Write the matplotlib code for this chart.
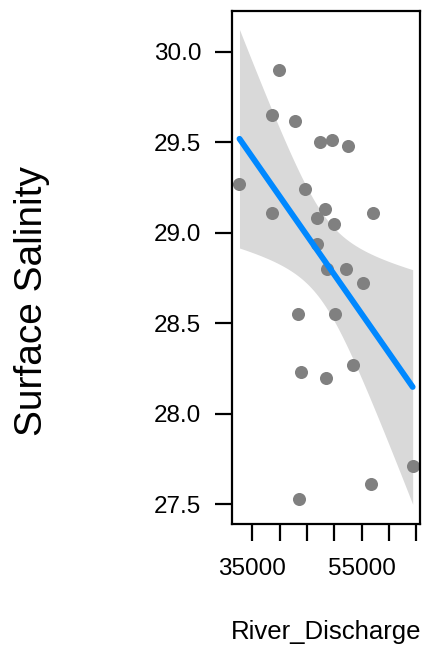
import numpy as np
import matplotlib
matplotlib.use("Agg")
import matplotlib.pyplot as plt

plt.rcParams['font.family'] = ['Liberation Sans', 'DejaVu Sans']

# River discharge vs surface salinity observations
river_discharge = [32620, 38600, 39830, 42870, 47380, 49520, 52560,
                   44640, 38660, 48300, 46780, 49940, 57130, 46780,
                   48610, 52140, 55300, 43300, 50130, 43900, 48480,
                   53370, 64340, 56650, 43540]
surface_salinity = [29.27, 29.65, 29.90, 29.62, 29.50, 29.51, 29.48,
                    29.24, 29.11, 29.13, 29.08, 29.05, 29.11, 28.94,
                    28.80, 28.80, 28.72, 28.55, 28.55, 28.23, 28.20,
                    28.27, 27.71, 27.61, 27.53]

x_ticks = [35000, 40000, 45000, 50000, 55000, 60000, 65000]
x_tick_labels = ['35000', '', '', '', '55000', '', '']
y_ticks = [27.5, 28.0, 28.5, 29.0, 29.5, 30.0]

x = np.array(river_discharge, dtype=float)
y = np.array(surface_salinity, dtype=float)

# ordinary least squares fit with 95% confidence band
n = len(x)
slope, intercept = np.polyfit(x, y, 1)
resid = y - (intercept + slope * x)
s = np.sqrt(np.sum(resid ** 2) / (n - 2))
xx = np.linspace(x.min(), x.max(), 200)
yy = intercept + slope * xx
sxx = np.sum((x - x.mean()) ** 2)
se = s * np.sqrt(1.0 / n + (xx - x.mean()) ** 2 / sxx)
tcrit = 2.0687  # t(0.975, df=23)
lo = yy - tcrit * se
hi = yy + tcrit * se

fig = plt.figure(figsize=(4.24, 6.48), dpi=100)
ax = fig.add_axes([232.5 / 424, 1 - 523.5 / 648, 187 / 424, 512.5 / 648])

ax.fill_between(xx, lo, hi, color='#D9D9D9', linewidth=0, zorder=1)
ax.plot(x, y, 'o', color='#808080', markersize=9.4, markeredgewidth=0, zorder=2)
ax.plot(xx, yy, color='#0088FF', linewidth=4.2, solid_capstyle='round', zorder=3)

ax.set_xlim(31340, 65590)
ax.set_ylim(27.394, 30.225)
ax.set_xticks(x_ticks)
ax.set_xticklabels(x_tick_labels)
ax.set_yticks(y_ticks)
ax.set_yticklabels(['%.1f' % v for v in y_ticks])

for sp in ax.spines.values():
    sp.set_linewidth(1.6)
ax.tick_params(axis='both', direction='out', length=12.5, width=1.6,
               labelsize=17.5, color='black')
ax.tick_params(axis='y', pad=10)
ax.tick_params(axis='x', pad=12)

fig.text(326 / 424, 1 - 632 / 648, 'River_Discharge', fontsize=18.5,
         ha='center', va='center')
fig.text(32 / 424, 1 - 301 / 648, 'Surface Salinity', fontsize=28,
         rotation=90, ha='center', va='center')

fig.savefig('out.png', dpi=100)
